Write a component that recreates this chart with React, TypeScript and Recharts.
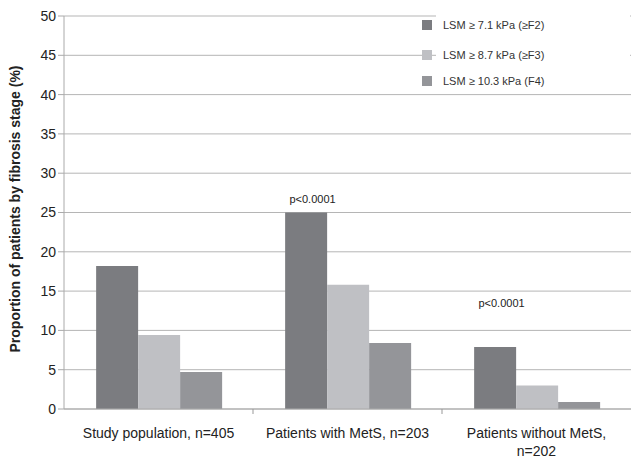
import React from 'react';
import { ComposedChart, Bar, Line, XAxis, YAxis, CartesianGrid, LabelList } from 'recharts';

const categories = ['Study population, n=405', 'Patients with MetS, n=203', 'Patients without MetS,\nn=202'];
const f2Values = [18.2, 25.0, 7.9];
const f3Values = [9.4, 15.8, 3.0];
const f4Values = [4.7, 8.4, 0.9];
const pLabels = ['', 'p<0.0001', 'p<0.0001'];
const pLabelLevels = [null, 26.2, 13.0];
const seriesNames = ['LSM \u2265 7.1  kPa (\u2265F2)', 'LSM \u2265 8.7  kPa (\u2265F3)', 'LSM \u2265 10.3  kPa (F4)'];
const yTicks = [0, 5, 10, 15, 20, 25, 30, 35, 40, 45, 50];

const colors = ['#7b7c80', '#bfc0c4', '#949599'];

const data = categories.map((c, i) => ({
  name: c,
  f2: f2Values[i],
  f3: f3Values[i],
  f4: f4Values[i],
  p: pLabels[i],
  pY: pLabelLevels[i],
}));

const W = 631;
const H = 462;
const LEFT = 64;
const BAND = (W - LEFT) / categories.length;
const FONT = '"Liberation Sans", Arial, sans-serif';

const XTick = (props: any) => {
  const { x, y, payload, index } = props;
  const lines = String(payload.value).split('\n');
  return (
    <g>
      {index > 0 && <line x1={x - BAND / 2} x2={x - BAND / 2} y1={y - 8} y2={y - 3} stroke="#999" />}
      <text x={x} y={y + 21} textAnchor="middle" fontSize={14} fill="#222" fontFamily={FONT}>
        {lines.map((l, i) => (
          <tspan key={i} x={x} dy={i === 0 ? 0 : 18}>{l}</tspan>
        ))}
      </text>
    </g>
  );
};

const LegendBox = () => (
  <div style={{ position: 'absolute', left: 422, top: 16, width: 210, height: 80, fontFamily: FONT }}>
    <div style={{ position: 'absolute', left: 14, top: -4, width: 194, height: 80, background: '#fff' }} />
    {seriesNames.map((n, i) => (
      <div key={i} style={{ position: 'absolute', left: 0, top: 3 + i * 30 - (i === 2 ? 4 : 0), display: 'flex', alignItems: 'center', height: 12 }}>
        <div style={{ width: 10, height: 10, background: colors[i], marginRight: 11 }} />
        <span style={{ fontSize: 11, color: '#333', whiteSpace: 'nowrap' }}>{n}</span>
      </div>
    ))}
  </div>
);

const PLabel = (props: any) => {
  const { x, y, value } = props;
  if (!value) return null;
  return (
    <text x={x - BAND * 0.185} y={y} textAnchor="middle" fontSize={11} fill="#222" fontFamily={FONT}>{value}</text>
  );
};

export default function App() {
  return (
    <div style={{ position: 'absolute', left: 0, top: 0, width: W, height: H, background: '#fff' }}>
      <ComposedChart width={W} height={H} data={data} margin={{ top: 16, right: 0, bottom: 0, left: 0 }} barCategoryGap="17%" barGap={0}>
        <CartesianGrid vertical={false} stroke="#b5b5b5" />
        <XAxis dataKey="name" height={53} tick={<XTick />} tickLine={false} axisLine={{ stroke: '#aaa' }} interval={0} />
        <YAxis
          width={LEFT}
          domain={[0, 50]}
          ticks={yTicks}
          interval={0}
          tick={{ fontSize: 14, fill: '#222', fontFamily: FONT }}
          tickLine={{ stroke: '#aaa' }}
          tickSize={6}
          axisLine={{ stroke: '#aaa' }}
          label={{ value: 'Proportion of patients by fibrosis stage (%)', angle: -90, position: 'insideLeft', dx: 10, dy: 140, style: { fontSize: 14, fontWeight: 'bold', fill: '#222', fontFamily: FONT } }}
        />
        <Bar dataKey="f2" name={seriesNames[0]} fill={colors[0]} isAnimationActive={false} />
        <Bar dataKey="f3" name={seriesNames[1]} fill={colors[1]} isAnimationActive={false} />
        <Bar dataKey="f4" name={seriesNames[2]} fill={colors[2]} isAnimationActive={false} />
        <Line dataKey="pY" stroke="none" dot={false} activeDot={false} isAnimationActive={false} connectNulls={false}>
          <LabelList dataKey="p" content={<PLabel />} />
        </Line>
      </ComposedChart>
      <LegendBox />
    </div>
  );
}
